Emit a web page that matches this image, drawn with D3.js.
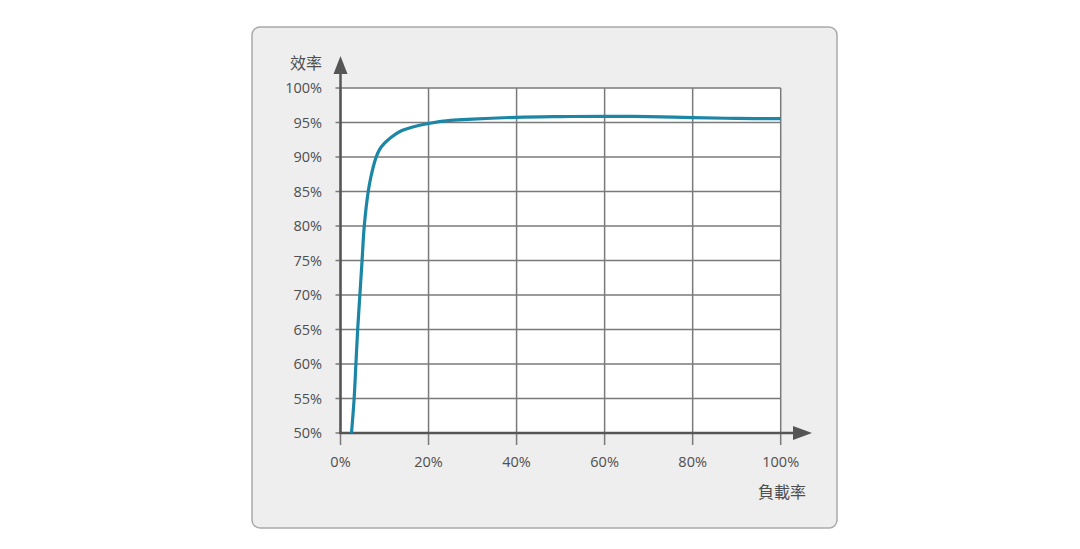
<!DOCTYPE html>
<html>
<head>
<meta charset="utf-8">
<script src="https://cdn.jsdelivr.net/npm/d3@7"></script>
<style>
  html, body { margin: 0; padding: 0; background: #fff; }
  svg { display: block; }
  text { font-family: "Open Sans", "Noto Sans CJK TC", sans-serif; fill: #4f4f4f; }
</style>
</head>
<body>
<svg id="chart" width="1080" height="549"></svg>
<script>
// load rate (%) vs efficiency (%)
const loadRate = [2.5, 3.1, 3.5, 3.9, 4.4, 4.9, 5.4, 6.3, 6.9, 8.0, 8.8, 10.0, 11.6, 13.5, 16.2, 20, 25, 30, 40, 50, 60, 70, 80, 90, 100];
const efficiency = [50, 55, 60, 65, 70, 75, 80, 85, 87.1, 89.8, 91.0, 92.0, 92.9, 93.7, 94.3, 94.85, 95.3, 95.5, 95.75, 95.85, 95.9, 95.85, 95.7, 95.6, 95.55];

const xTicks = [0, 20, 40, 60, 80, 100];
const yTicks = [50, 55, 60, 65, 70, 75, 80, 85, 90, 95, 100];
const xTitle = '負載率';
const yTitle = '效率';

const svg = d3.select('#chart');

// panel
svg.append('rect')
  .attr('x', 252).attr('y', 27)
  .attr('width', 585).attr('height', 501)
  .attr('rx', 8).attr('ry', 8)
  .attr('fill', '#eeeeee')
  .attr('stroke', '#a9a9a9')
  .attr('stroke-width', 1.5);

const x = d3.scaleLinear().domain([0, 100]).range([340.5, 780.7]);
const y = d3.scaleLinear().domain([50, 100]).range([433, 88]);

// plot background
svg.append('rect')
  .attr('x', x(0)).attr('y', y(100))
  .attr('width', x(100) - x(0)).attr('height', y(50) - y(100))
  .attr('fill', '#fff');

// grid
svg.append('g').selectAll('line')
  .data(yTicks)
  .join('line')
  .attr('x1', x(0) - 5).attr('x2', x(100))
  .attr('y1', d => y(d)).attr('y2', d => y(d))
  .attr('stroke', '#7a7a7a')
  .attr('stroke-width', 1.5);

svg.append('g').selectAll('line')
  .data(xTicks)
  .join('line')
  .attr('x1', d => x(d)).attr('x2', d => x(d))
  .attr('y1', y(100)).attr('y2', y(50) + 12)
  .attr('stroke', '#7a7a7a')
  .attr('stroke-width', 1.5);

// tick labels
svg.append('g').selectAll('text')
  .data(yTicks)
  .join('text')
  .attr('x', 322)
  .attr('y', d => y(d))
  .attr('dy', '0.36em')
  .attr('text-anchor', 'end')
  .style('font-size', '14.5px')
  .text(d => d + '%');

svg.append('g').selectAll('text')
  .data(xTicks)
  .join('text')
  .attr('x', d => x(d))
  .attr('y', 467)
  .attr('text-anchor', 'middle')
  .style('font-size', '14.5px')
  .text(d => d + '%');

// axes with arrow heads
svg.append('line')
  .attr('x1', x(0)).attr('x2', x(0))
  .attr('y1', y(50) + 1).attr('y2', 70)
  .attr('stroke', '#555').attr('stroke-width', 2.5);
svg.append('path')
  .attr('d', `M${x(0)},56 L${x(0) + 7},74 L${x(0) - 7},74 Z`)
  .attr('fill', '#555');

svg.append('line')
  .attr('x1', x(0) - 1).attr('x2', 796)
  .attr('y1', y(50)).attr('y2', y(50))
  .attr('stroke', '#555').attr('stroke-width', 2.5);
svg.append('path')
  .attr('d', `M812,${y(50)} L793,${y(50) - 7} L793,${y(50) + 7} Z`)
  .attr('fill', '#555');

// axis titles
svg.append('text')
  .attr('x', 322).attr('y', 63)
  .attr('dy', '0.36em')
  .attr('text-anchor', 'end')
  .style('font-size', '16px')
  .text(yTitle);

svg.append('text')
  .attr('x', 782).attr('y', 492)
  .attr('dy', '0.36em')
  .attr('text-anchor', 'middle')
  .style('font-size', '16px')
  .text(xTitle);

// efficiency curve
const line = d3.line()
  .x(d => x(d[0]))
  .y(d => y(d[1]))
  .curve(d3.curveCatmullRom.alpha(0.5));

svg.append('path')
  .datum(d3.zip(loadRate, efficiency))
  .attr('d', line)
  .attr('fill', 'none')
  .attr('stroke', '#1b86a6')
  .attr('stroke-width', 3.2)
  .attr('stroke-linecap', 'butt');
</script>
</body>
</html>
